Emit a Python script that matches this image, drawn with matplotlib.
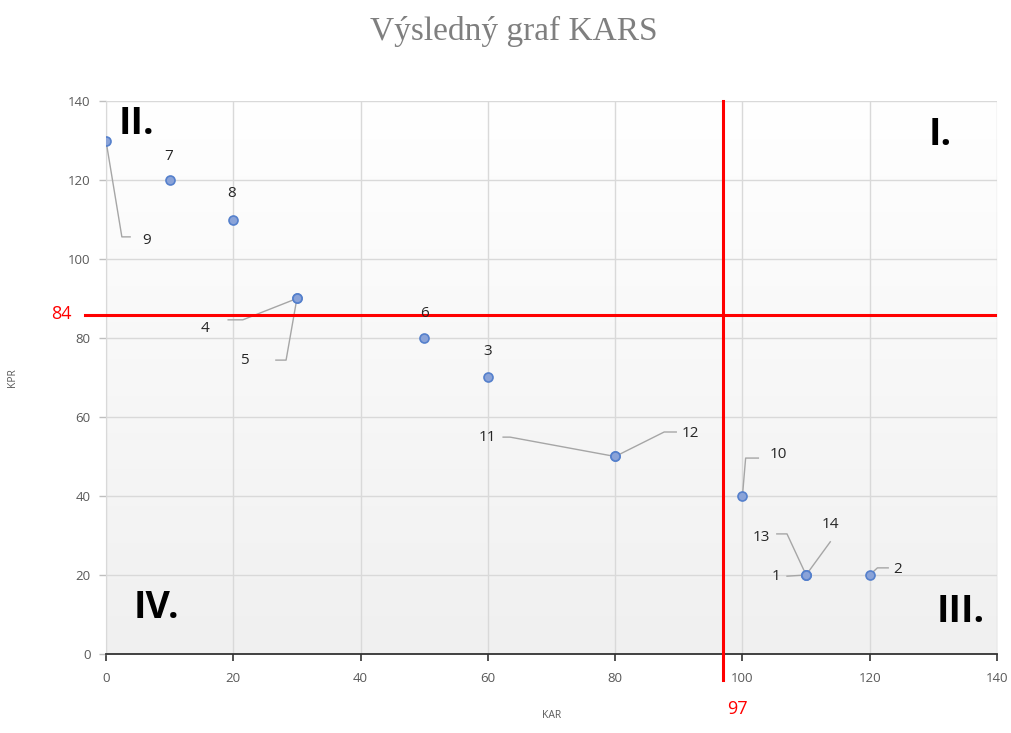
import numpy as np
import matplotlib
matplotlib.use("Agg")
import matplotlib.pyplot as plt
from matplotlib.colors import LinearSegmentedColormap

# ---- data ----
kar = [110, 120, 60, 30, 30, 50, 10, 20, 0, 100, 80, 80, 110, 110]
kpr = [20, 20, 70, 90, 90, 80, 120, 110, 130, 40, 50, 50, 20, 20]
labels = ["1", "2", "3", "4", "5", "6", "7", "8", "9", "10", "11", "12", "13", "14"]
kar_limit = 97
kpr_limit = 84
kpr_line_drawn = 85.8   # where the hand-drawn line sits in the picture
x_ticks = [0, 20, 40, 60, 80, 100, 120, 140]
y_ticks = [0, 20, 40, 60, 80, 100, 120, 140]

# label placement (data coords) and leader line elbows
label_pos = {
    "1": (105.3, 19.5), "2": (124.4, 21.5), "3": (59.9, 76.5), "4": (15.6, 82.5),
    "5": (21.8, 74.2), "6": (50.0, 86.3), "7": (9.9, 126.0), "8": (19.8, 116.5),
    "9": (6.4, 104.6), "10": (105.6, 50.4), "11": (59.9, 54.7), "12": (91.8, 55.9),
    "13": (102.9, 29.6), "14": (113.8, 32.9),
}
leaders = {
    "1": [(107.0, 19.7)],
    "2": [(121.2, 21.8), (122.9, 21.8)],
    "4": [(21.5, 84.6), (19.2, 84.6)],
    "5": [(28.3, 74.4), (26.7, 74.4)],
    "9": [(2.5, 105.6), (3.8, 105.6)],
    "10": [(100.5, 49.6), (102.5, 49.6)],
    "11": [(63.5, 54.9), (62.4, 54.9)],
    "12": [(87.7, 56.2), (89.6, 56.2)],
    "13": [(107.0, 30.4), (105.4, 30.4)],
    "14": [(113.8, 28.4)],
}

fig = plt.figure(figsize=(10.11, 7.33), dpi=100)
ax = fig.add_axes([0.1048, 0.1078, 0.8814, 0.7544])
ax.set_xlim(0, 140)
ax.set_ylim(0, 140)

# gradient background
grad = np.linspace(0, 1, 256).reshape(-1, 1)
cmap = LinearSegmentedColormap.from_list("bg", ["#f0f0f0", "#ffffff"])
ax.imshow(grad, extent=[0, 140, 0, 140], origin="lower", aspect="auto", cmap=cmap, zorder=0)

ax.set_xticks(x_ticks)
ax.set_yticks(y_ticks)
ax.grid(True, color="#d9d9d9", linewidth=1.0, zorder=1)
ax.set_axisbelow(True)
for s in ["top", "right"]:
    ax.spines[s].set_visible(False)
ax.spines["left"].set_color("#d9d9d9")
ax.spines["bottom"].set_color("#333333")
ax.spines["bottom"].set_linewidth(1.3)
ax.tick_params(axis="x", colors="#333333", length=5, width=1.2, labelcolor="#595959", labelsize=9.5, pad=8)
ax.tick_params(axis="y", colors="#bfbfbf", length=5, width=1, labelcolor="#595959", labelsize=9.5, pad=6)
for t in ax.get_xticklabels() + ax.get_yticklabels():
    t.set_fontfamily("Open Sans")

ax.set_xlabel("KAR", fontsize=7.5, color="#595959", family="Open Sans", labelpad=18)
ax.set_ylabel("KPR", fontsize=7.5, color="#595959", family="Open Sans", labelpad=36)

# red threshold lines
ax.plot([kar_limit, kar_limit], [140, -6.6], color="#ff0000", lw=2.2, clip_on=False, zorder=4)
ax.plot([-3.3, 139.7], [kpr_line_drawn, kpr_line_drawn], color="#ff0000", lw=2.2, clip_on=False, zorder=4)
ax.text(-7.0, kpr_line_drawn + 0.3, str(kpr_limit), color="#ff0000", fontsize=13, family="Open Sans",
        ha="center", va="center", clip_on=False)
ax.text(kar_limit + 2.2, -14.0, str(kar_limit), color="#ff0000", fontsize=13, family="Open Sans",
        ha="center", va="center", clip_on=False)

# leader lines
for lab, x, y in zip(labels, kar, kpr):
    if lab in leaders:
        pts = [(x, y)] + leaders[lab]
        ax.plot([p[0] for p in pts], [p[1] for p in pts], color="#a6a6a6", lw=1.0, zorder=3)

# points
ax.scatter(kar, kpr, s=42, facecolor="#8aa3d8", edgecolor="#5580cc", linewidth=1.2, zorder=5)

for lab in labels:
    lx, ly = label_pos[lab]
    ax.text(lx, ly, lab, fontsize=11, color="#262626", family="Open Sans", ha="center", va="center", zorder=6)

# quadrant labels
qk = dict(fontsize=27, fontweight="bold", color="black", family="Open Sans", ha="center", va="center", zorder=6)
ax.text(4.8, 134.3, "II.", **qk)
ax.text(131.0, 131.5, "I.", **qk)
ax.text(7.9, 11.6, "IV.", **qk)
ax.text(134.3, 10.6, "III.", **qk)

fig.text(0.508, 0.957, "Výsledný graf KARS", fontsize=24, color="#7f7f7f",
         family="Liberation Serif", ha="center", va="center")

fig.savefig("out.png", dpi=100)
